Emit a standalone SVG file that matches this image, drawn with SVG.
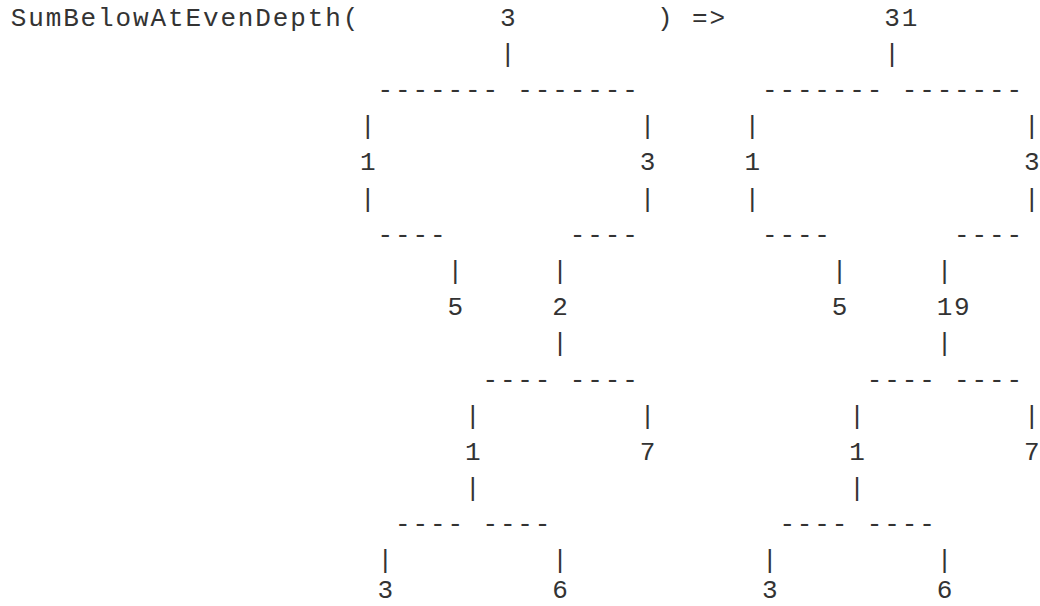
<svg xmlns="http://www.w3.org/2000/svg" width="1040" height="606" viewBox="0 0 1040 606">
<style>
text{font-family:"Liberation Mono","DejaVu Sans Mono",monospace;font-size:26px;letter-spacing:1.87px;fill:#333;white-space:pre}
</style>
<rect width="1040" height="606" fill="#fff"/>
<g transform="translate(0.93,0)">
<g id="title">
<text x="9.8" y="25.5">SumBelowAtEvenDepth(</text>
<text x="656.19" y="25.5">)</text>
<text x="691.13" y="25.5">=&gt;</text>
</g>
<g id="connectors">
<text x="498.96" y="61.7">|</text><text x="883.3" y="61.7">|</text>
<text x="376.67" y="97.9">-------</text><text x="516.43" y="97.9">-------</text>
<text x="761.01" y="97.9">-------</text><text x="900.77" y="97.9">-------</text>
<text x="359.2" y="134.1">|</text><text x="638.72" y="134.1">|</text><text x="743.54" y="134.1">|</text><text x="1023.06" y="134.1">|</text>
<text x="359.2" y="206.5">|</text><text x="638.72" y="206.5">|</text><text x="743.54" y="206.5">|</text><text x="1023.06" y="206.5">|</text>
<text x="376.67" y="242.7">----</text><text x="568.84" y="242.7">----</text><text x="761.01" y="242.7">----</text><text x="953.18" y="242.7">----</text>
<text x="446.55" y="278.9">|</text><text x="551.37" y="278.9">|</text><text x="830.89" y="278.9">|</text><text x="935.71" y="278.9">|</text>
<text x="551.37" y="351.3">|</text><text x="935.71" y="351.3">|</text>
<text x="481.49" y="387.5">----</text><text x="568.84" y="387.5">----</text><text x="865.83" y="387.5">----</text><text x="953.18" y="387.5">----</text>
<text x="464.02" y="423.7">|</text><text x="638.72" y="423.7">|</text><text x="848.36" y="423.7">|</text><text x="1023.06" y="423.7">|</text>
<text x="464.02" y="496.1">|</text><text x="848.36" y="496.1">|</text>
<text x="394.14" y="532.3">----</text><text x="481.49" y="532.3">----</text><text x="778.48" y="532.3">----</text><text x="865.83" y="532.3">----</text>
<text x="376.67" y="567.5">|</text><text x="551.37" y="567.5">|</text><text x="761.01" y="567.5">|</text><text x="935.71" y="567.5">|</text>
</g>
<g id="in-root"><text x="498.96" y="25.5">3</text></g>
<g id="in-1"><text x="359.2" y="170.3">1</text></g>
<g id="in-3"><text x="638.72" y="170.3">3</text></g>
<g id="in-5"><text x="446.55" y="315.1">5</text></g>
<g id="in-2"><text x="551.37" y="315.1">2</text></g>
<g id="in-1b"><text x="464.02" y="459.9">1</text></g>
<g id="in-7"><text x="638.72" y="459.9">7</text></g>
<g id="in-3b"><text x="376.67" y="598">3</text></g>
<g id="in-6"><text x="551.37" y="598">6</text></g>
<g id="out-root"><text x="883.3" y="25.5">31</text></g>
<g id="out-1"><text x="743.54" y="170.3">1</text></g>
<g id="out-3"><text x="1023.06" y="170.3">3</text></g>
<g id="out-5"><text x="830.89" y="315.1">5</text></g>
<g id="out-19"><text x="935.71" y="315.1">19</text></g>
<g id="out-1b"><text x="848.36" y="459.9">1</text></g>
<g id="out-7"><text x="1023.06" y="459.9">7</text></g>
<g id="out-3b"><text x="761.01" y="598">3</text></g>
<g id="out-6"><text x="935.71" y="598">6</text></g>
</g>
</svg>
